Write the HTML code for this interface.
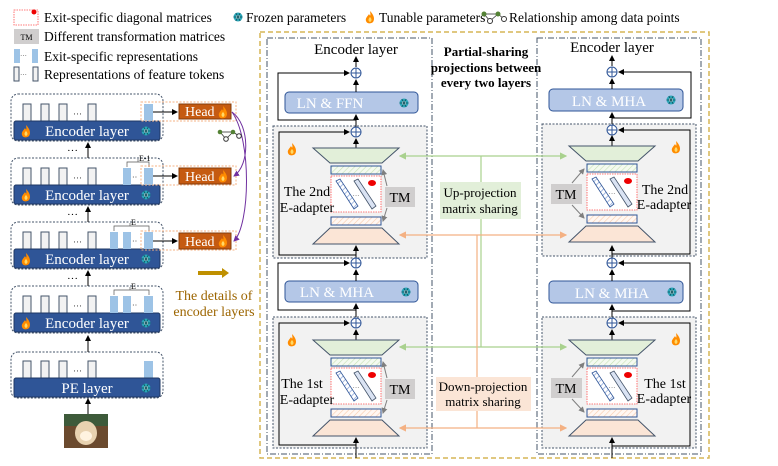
<!DOCTYPE html>
<html><head><meta charset="utf-8"><style>
html,body{margin:0;padding:0;background:#fff}
svg{display:block;font-family:"Liberation Serif",serif}
</style></head><body>
<svg width="778" height="466" viewBox="0 0 778 466" xmlns="http://www.w3.org/2000/svg">
<defs>
<pattern id="hb" width="4" height="4" patternUnits="userSpaceOnUse" patternTransform="rotate(45)"><rect width="4" height="4" fill="#fff"/><line x1="0" y1="0" x2="0" y2="4" stroke="#8faadc" stroke-width="1.6"/></pattern>
<pattern id="hg" width="4" height="4" patternUnits="userSpaceOnUse" patternTransform="rotate(45)"><rect width="4" height="4" fill="#f4faf0"/><line x1="0" y1="0" x2="0" y2="4" stroke="#c5e0b4" stroke-width="1.2"/></pattern>
<pattern id="ho" width="4" height="4" patternUnits="userSpaceOnUse" patternTransform="rotate(45)"><rect width="4" height="4" fill="#fff7f2"/><line x1="0" y1="0" x2="0" y2="4" stroke="#f8cbad" stroke-width="1.2"/></pattern>
<marker id="ar" viewBox="0 0 6 6" refX="5" refY="3" markerWidth="6" markerHeight="6" orient="auto"><path d="M0,0L6,3L0,6z" fill="#000"/></marker>
<marker id="ag" viewBox="0 0 6 6" refX="5" refY="3" markerWidth="6" markerHeight="6" orient="auto-start-reverse"><path d="M0,0L6,3L0,6z" fill="#a9d18e"/></marker>
<marker id="ao" viewBox="0 0 6 6" refX="5" refY="3" markerWidth="6" markerHeight="6" orient="auto-start-reverse"><path d="M0,0L6,3L0,6z" fill="#f4b183"/></marker>
<marker id="agr" viewBox="0 0 6 6" refX="5" refY="3" markerWidth="6" markerHeight="6" orient="auto"><path d="M0,0L6,3L0,6z" fill="#7f7f7f"/></marker>
<marker id="ap" viewBox="0 0 6 6" refX="5" refY="3" markerWidth="6" markerHeight="6" orient="auto"><path d="M0,0L6,3L0,6z" fill="#7030a0"/></marker>
<g id="core">
<polygon points="-43,0 43,0 26,15 -26,15" fill="#e2efd9" stroke="#44546a" stroke-width="1"/>
<rect x="-25" y="18" width="50" height="8" fill="url(#hg)" stroke="#2f5597" stroke-width="1"/>
<rect x="-25" y="28" width="50" height="36" fill="#fff" stroke="#ff5050" stroke-width="0.8" stroke-dasharray="1.5,1"/>
<polygon points="-20,33 -16,31 2,58 -2,61" fill="url(#hb)" stroke="#2f5597" stroke-width="0.8"/>
<polygon points="-2,33 2,31 20,58 16,61" fill="#dae3f3" stroke="#44546a" stroke-width="0.8"/>
<text x="0" y="50" font-size="7" fill="#666" text-anchor="middle">···</text>
<ellipse cx="16" cy="35" rx="4" ry="3" fill="#e00"/>
<rect x="-25" y="69" width="50" height="8" fill="url(#ho)" stroke="#2f5597" stroke-width="1"/>
<polygon points="-26,80 26,80 43,96 -43,96" fill="#fbe5d6" stroke="#44546a" stroke-width="1"/>
</g>
<g id="plus"><circle r="5" fill="#fff" stroke="#2f5597" stroke-width="1"/><line x1="-5" y1="0" x2="5" y2="0" stroke="#2f5597"/><line x1="0" y1="-5" x2="0" y2="5" stroke="#2f5597"/></g>
<g id="snow"><circle r="4.5" fill="#2aa6b8"/><circle r="2" fill="#e6fbff"/><line x1="-4.5" y1="0" x2="4.5" y2="0" stroke="#0b4f5a" stroke-width="0.8"/><line x1="-2.2" y1="-3.9" x2="2.2" y2="3.9" stroke="#0b4f5a" stroke-width="0.8"/><line x1="2.2" y1="-3.9" x2="-2.2" y2="3.9" stroke="#0b4f5a" stroke-width="0.8"/></g>
<g id="fire"><path d="M0,-6 C4,-2 5,2 3,5 C1,7 -3,7 -4,4 C-5,1 -2,-1 -1,-3 C0,-1 1,0 0,-6z" fill="#ff8c00"/><path d="M0,0 C2,2 2,4 0,5 C-2,4 -2,2 0,0z" fill="#ffd966"/></g>
<g id="tok"><rect width="8" height="17" fill="#f2f2f2" stroke="#44546a" stroke-width="1"/></g>
</defs>

<!-- legend -->
<rect x="14" y="10" width="24" height="15" fill="#fff" stroke="#ff5050" stroke-width="0.8" stroke-dasharray="1.5,1"/>
<circle cx="34" cy="12" r="2.5" fill="#e00"/>
<text x="44" y="22" font-size="13.5">Exit-specific diagonal matrices</text>
<use href="#snow" x="238" y="17"/><text x="246" y="22" font-size="13.5">Frozen parameters</text>
<use href="#fire" x="370" y="17"/><text x="379" y="22" font-size="13.5">Tunable parameters</text>
<g stroke="#333" stroke-width="0.8" fill="none"><line x1="484" y1="14" x2="490" y2="21"/><line x1="490" y1="21" x2="498" y2="14"/><line x1="498" y1="14" x2="484" y2="14"/><line x1="498" y1="14" x2="504" y2="19"/></g>
<circle cx="484" cy="14" r="2.5" fill="#548235"/><circle cx="498" cy="14" r="2.5" fill="#548235"/><circle cx="490" cy="21" r="2.5" fill="#fff" stroke="#333"/><circle cx="504" cy="19" r="2.5" fill="#fff" stroke="#333"/>
<text x="509" y="22" font-size="13.5">Relationship among data points</text>
<rect x="14" y="29" width="25" height="15" fill="#d0cece"/><text x="26.5" y="40" font-size="8" text-anchor="middle">TM</text>
<text x="44" y="41" font-size="13.5">Different transformation matrices</text>
<rect x="14" y="49" width="6" height="14" fill="#9dc3e6"/><text x="20" y="58" font-size="7" fill="#555">···</text><rect x="32" y="49" width="6" height="14" fill="#9dc3e6"/>
<text x="44" y="61" font-size="13.5">Exit-specific representations</text>
<rect x="14" y="67" width="5" height="14" fill="#f2f2f2" stroke="#44546a"/><text x="20" y="77" font-size="7" fill="#555">···</text><rect x="33" y="67" width="5" height="14" fill="#f2f2f2" stroke="#44546a"/>
<text x="44" y="79" font-size="13.5">Representations of feature tokens</text>

<!-- left column blocks -->
<g id="blk">
<rect x="11" y="94" width="152" height="47" rx="7" fill="#fff" stroke="#44546a" stroke-width="1" stroke-dasharray="2,1.5"/>
<use href="#tok" x="23" y="104"/><use href="#tok" x="41" y="104"/><use href="#tok" x="59" y="104"/><use href="#tok" x="88" y="104"/>
<text x="73" y="117" font-size="9" fill="#333">···</text>
<rect x="14" y="121" width="146" height="19" rx="2" fill="#2f5597" stroke="#1f3864"/>
<use href="#fire" x="26" y="131"/><use href="#snow" x="146" y="131"/>
</g>
<text x="87" y="136" font-size="15" fill="#fff" text-anchor="middle">Encoder layer</text>
<rect x="144" y="104" width="9" height="17" fill="#9dc3e6"/>
<use href="#blk" y="64"/><text x="87" y="200" font-size="15" fill="#fff" text-anchor="middle">Encoder layer</text>
<rect x="144" y="168" width="9" height="17" fill="#9dc3e6"/><rect x="123" y="168" width="8" height="17" fill="#9dc3e6"/><text x="132" y="180" font-size="8" fill="#333">··</text>
<path d="M127,167 V162 H149 V167 M138,162 V159" fill="none" stroke="#555" stroke-width="0.7"/><text x="139" y="161" font-size="8">E-1</text>
<use href="#blk" y="128"/><text x="87" y="264" font-size="15" fill="#fff" text-anchor="middle">Encoder layer</text>
<rect x="144" y="232" width="9" height="17" fill="#9dc3e6"/><rect x="123" y="232" width="8" height="17" fill="#9dc3e6"/><rect x="110" y="232" width="8" height="17" fill="#9dc3e6"/><text x="132" y="244" font-size="8" fill="#333">··</text>
<path d="M114,231 V226 H149 V231 M130,226 V223" fill="none" stroke="#555" stroke-width="0.7"/><text x="131" y="225" font-size="8">E</text>
<use href="#blk" y="192"/><text x="87" y="328" font-size="15" fill="#fff" text-anchor="middle">Encoder layer</text>
<rect x="144" y="296" width="9" height="17" fill="#9dc3e6"/><rect x="123" y="296" width="8" height="17" fill="#9dc3e6"/><rect x="110" y="296" width="8" height="17" fill="#9dc3e6"/><text x="132" y="308" font-size="8" fill="#333">··</text>
<path d="M114,295 V290 H149 V295 M130,290 V287" fill="none" stroke="#555" stroke-width="0.7"/><text x="131" y="289" font-size="8">E</text>
<!-- PE -->
<rect x="11" y="352" width="152" height="46" rx="7" fill="#fff" stroke="#44546a" stroke-width="1" stroke-dasharray="2,1.5"/>
<use href="#tok" x="23" y="361"/><use href="#tok" x="41" y="361"/><use href="#tok" x="59" y="361"/><use href="#tok" x="88" y="361"/>
<text x="73" y="374" font-size="9" fill="#333">···</text>
<rect x="144" y="361" width="9" height="17" fill="#9dc3e6"/>
<rect x="14" y="378" width="146" height="19" rx="2" fill="#2f5597" stroke="#1f3864"/>
<use href="#snow" x="146" y="388"/>
<text x="87" y="393" font-size="15" fill="#fff" text-anchor="middle">PE layer</text>
<!-- image -->
<rect x="64" y="414" width="44" height="34" fill="#6b4a2e"/>
<rect x="64" y="414" width="44" height="12" fill="#3d5a3a"/>
<ellipse cx="86" cy="433" rx="11" ry="12" fill="#e8d2b0"/>
<ellipse cx="86" cy="436" rx="6" ry="5" fill="#fff3e0"/>
<!-- vertical arrows left -->
<g stroke="#000" stroke-width="1" marker-end="url(#ar)">
<line x1="88" y1="158" x2="88" y2="143"/><line x1="88" y1="222" x2="88" y2="207"/><line x1="88" y1="286" x2="88" y2="271"/><line x1="88" y1="352" x2="88" y2="336"/><line x1="88" y1="414" x2="88" y2="399"/>
</g>
<text x="67" y="154" font-size="11">···</text><text x="67" y="218" font-size="11">···</text><text x="67" y="282" font-size="11">···</text>
<!-- heads -->
<g>
<rect x="141" y="102" width="95" height="19" fill="none" stroke="#f4b183" stroke-dasharray="2,1.5"/>
<rect x="141" y="166" width="95" height="19" fill="none" stroke="#f4b183" stroke-dasharray="2,1.5"/>
<rect x="141" y="231" width="95" height="19" fill="none" stroke="#f4b183" stroke-dasharray="2,1.5"/>
<g fill="#c55a11" stroke="#843c0c"><rect x="179" y="104" width="52" height="15"/><rect x="179" y="168" width="52" height="16"/><rect x="179" y="233" width="52" height="16"/></g>
<g font-size="14" fill="#fff"><text x="185" y="116">Head</text><text x="185" y="181">Head</text><text x="185" y="246">Head</text></g>
<use href="#fire" x="223" y="112"/><use href="#fire" x="223" y="176"/><use href="#fire" x="223" y="241"/>
<g stroke="#000" marker-end="url(#ar)"><line x1="153" y1="112" x2="177" y2="112"/><line x1="153" y1="176" x2="177" y2="176"/><line x1="153" y1="241" x2="177" y2="241"/></g>
<path d="M232,112 C250,125 250,165 234,176" fill="none" stroke="#7030a0" marker-end="url(#ap)"/>
<path d="M232,112 C252,140 250,225 234,241" fill="none" stroke="#7030a0" marker-end="url(#ap)"/>
<g stroke="#333" stroke-width="0.8"><line x1="220" y1="132" x2="226" y2="139"/><line x1="226" y1="139" x2="233" y2="132"/><line x1="220" y1="132" x2="233" y2="132"/><line x1="233" y1="132" x2="239" y2="136"/></g>
<circle cx="220" cy="132" r="2.3" fill="#548235"/><circle cx="233" cy="132" r="2.3" fill="#548235"/><circle cx="226" cy="139" r="2.3" fill="#fff" stroke="#333"/><circle cx="239" cy="136" r="2.3" fill="#fff" stroke="#333"/>
</g>
<path d="M198,273 H222" stroke="#bf9000" stroke-width="4"/><polygon points="222,268 229,273 222,278" fill="#bf9000"/>
<text x="214" y="300" font-size="14" fill="#9c6500" text-anchor="middle">The details of</text>
<text x="214" y="316" font-size="14" fill="#9c6500" text-anchor="middle">encoder layers</text>

<!-- big gold box -->
<rect x="260" y="32" width="449" height="426" fill="none" stroke="#d6b656" stroke-width="1.5" stroke-dasharray="5,3"/>
<!-- panels -->
<rect x="267" y="38" width="165" height="416" fill="none" stroke="#44546a" stroke-dasharray="6,2,1,2"/>
<rect x="537" y="38" width="164" height="416" fill="none" stroke="#44546a" stroke-dasharray="6,2,1,2"/>

<!-- LEFT PANEL -->
<text x="356" y="54" font-size="15" text-anchor="middle">Encoder layer</text>
<rect x="273" y="126" width="154" height="132" fill="#f2f2f2" stroke="#44546a" stroke-dasharray="2,1.5"/>
<rect x="273" y="317" width="154" height="131" fill="#f2f2f2" stroke="#44546a" stroke-dasharray="2,1.5"/>
<rect x="285" y="92" width="133" height="21" rx="4" fill="#b4c7e7" stroke="#2f5597"/>
<text x="330" y="108" font-size="15" fill="#fff" text-anchor="middle">LN &amp; FFN</text><use href="#snow" x="404" y="103"/>
<rect x="285" y="281" width="133" height="21" rx="4" fill="#b4c7e7" stroke="#2f5597"/>
<text x="337" y="297" font-size="15" fill="#fff" text-anchor="middle">LN &amp; MHA</text><use href="#snow" x="406" y="292"/>
<g stroke="#000" fill="none">
<line x1="356" y1="67" x2="356" y2="57" marker-end="url(#ar)"/>
<line x1="356" y1="92" x2="356" y2="80" marker-end="url(#ar)"/>
<line x1="356" y1="127" x2="356" y2="115" marker-end="url(#ar)"/>
<line x1="356" y1="148" x2="356" y2="139" marker-end="url(#ar)"/>
<line x1="356" y1="258" x2="356" y2="246" marker-end="url(#ar)"/>
<line x1="356" y1="281" x2="356" y2="270" marker-end="url(#ar)"/>
<line x1="356" y1="317" x2="356" y2="304" marker-end="url(#ar)"/>
<line x1="356" y1="340" x2="356" y2="330" marker-end="url(#ar)"/>
<line x1="356" y1="458" x2="356" y2="438" marker-end="url(#ar)"/>
<path d="M356,120 H278 V73 H349" marker-end="url(#ar)"/>
<path d="M356,255 H279 V132 H349" marker-end="url(#ar)"/>
<path d="M356,310 H278 V263 H349" marker-end="url(#ar)"/>
<path d="M356,445 H279 V323 H349" marker-end="url(#ar)"/>
</g>
<use href="#plus" x="356" y="73"/><use href="#plus" x="356" y="132"/><use href="#plus" x="356" y="263"/><use href="#plus" x="356" y="323"/>
<use href="#core" x="356" y="148"/><use href="#core" x="356" y="340"/>
<use href="#fire" x="292" y="149"/><use href="#fire" x="292" y="340"/>
<rect x="385" y="187" width="30" height="20" fill="#d0cece"/><text x="400" y="202" font-size="14" text-anchor="middle">TM</text>
<rect x="385" y="379" width="30" height="20" fill="#d0cece"/><text x="400" y="394" font-size="14" text-anchor="middle">TM</text>
<g stroke="#7f7f7f" marker-end="url(#agr)"><line x1="387" y1="186" x2="383" y2="170"/><line x1="387" y1="208" x2="383" y2="221"/><line x1="387" y1="378" x2="383" y2="362"/><line x1="387" y1="400" x2="383" y2="413"/></g>
<text x="307" y="196" font-size="14" text-anchor="middle">The 2nd</text><text x="307" y="212" font-size="14" text-anchor="middle">E-adapter</text>
<text x="302" y="388" font-size="14" text-anchor="middle">The 1st</text><text x="307" y="404" font-size="14" text-anchor="middle">E-adapter</text>

<!-- RIGHT PANEL -->
<text x="612" y="52" font-size="15" text-anchor="middle">Encoder layer</text>
<rect x="542" y="124" width="154" height="132" fill="#f2f2f2" stroke="#44546a" stroke-dasharray="2,1.5"/>
<rect x="542" y="317" width="154" height="131" fill="#f2f2f2" stroke="#44546a" stroke-dasharray="2,1.5"/>
<rect x="549" y="89" width="134" height="22" rx="4" fill="#b4c7e7" stroke="#2f5597"/>
<text x="609" y="106" font-size="15" fill="#fff" text-anchor="middle">LN &amp; MHA</text><use href="#snow" x="671" y="100"/>
<rect x="549" y="281" width="134" height="22" rx="4" fill="#b4c7e7" stroke="#2f5597"/>
<text x="612" y="298" font-size="15" fill="#fff" text-anchor="middle">LN &amp; MHA</text><use href="#snow" x="672" y="292"/>
<g stroke="#000" fill="none">
<line x1="612" y1="66" x2="612" y2="56" marker-end="url(#ar)"/>
<line x1="612" y1="89" x2="612" y2="79" marker-end="url(#ar)"/>
<line x1="612" y1="124" x2="612" y2="113" marker-end="url(#ar)"/>
<line x1="612" y1="146" x2="612" y2="136" marker-end="url(#ar)"/>
<line x1="612" y1="258" x2="612" y2="246" marker-end="url(#ar)"/>
<line x1="612" y1="281" x2="612" y2="270" marker-end="url(#ar)"/>
<line x1="612" y1="317" x2="612" y2="305" marker-end="url(#ar)"/>
<line x1="612" y1="340" x2="612" y2="330" marker-end="url(#ar)"/>
<line x1="612" y1="458" x2="612" y2="438" marker-end="url(#ar)"/>
<path d="M612,118 H691 V72 H619" marker-end="url(#ar)"/>
<path d="M612,254 H690 V130 H619" marker-end="url(#ar)"/>
<path d="M612,311 H690 V263 H619" marker-end="url(#ar)"/>
<path d="M612,446 H690 V323 H619" marker-end="url(#ar)"/>
</g>
<use href="#plus" x="612" y="72"/><use href="#plus" x="612" y="130"/><use href="#plus" x="612" y="263"/><use href="#plus" x="612" y="323"/>
<use href="#core" x="612" y="146"/><use href="#core" x="612" y="340"/>
<use href="#fire" x="676" y="147"/><use href="#fire" x="676" y="339"/>
<rect x="551" y="184" width="31" height="20" fill="#d0cece"/><text x="566" y="199" font-size="14" text-anchor="middle">TM</text>
<rect x="551" y="378" width="31" height="20" fill="#d0cece"/><text x="566" y="393" font-size="14" text-anchor="middle">TM</text>
<g stroke="#7f7f7f" marker-end="url(#agr)"><line x1="572" y1="183" x2="584" y2="169"/><line x1="572" y1="205" x2="584" y2="218"/><line x1="572" y1="377" x2="584" y2="363"/><line x1="572" y1="399" x2="584" y2="412"/></g>
<text x="665" y="194" font-size="14" text-anchor="middle">The 2nd</text><text x="664" y="209" font-size="14" text-anchor="middle">E-adapter</text>
<text x="665" y="388" font-size="14" text-anchor="middle">The 1st</text><text x="664" y="403" font-size="14" text-anchor="middle">E-adapter</text>

<!-- sharing lines -->
<g fill="none" stroke-width="1.2">
<line x1="400" y1="156" x2="566" y2="156" stroke="#a9d18e" marker-start="url(#ag)" marker-end="url(#ag)"/>
<line x1="400" y1="347" x2="566" y2="347" stroke="#a9d18e" marker-start="url(#ag)" marker-end="url(#ag)"/>
<line x1="481" y1="156" x2="481" y2="347" stroke="#a9d18e"/>
<line x1="400" y1="235" x2="566" y2="235" stroke="#f4b183" marker-start="url(#ao)" marker-end="url(#ao)"/>
<line x1="400" y1="428" x2="566" y2="428" stroke="#f4b183" marker-start="url(#ao)" marker-end="url(#ao)"/>
<line x1="477" y1="235" x2="477" y2="428" stroke="#f4b183"/>
</g>
<rect x="440" y="182" width="81" height="37" fill="#e2efd9"/>
<text x="480" y="197" font-size="13" text-anchor="middle">Up-projection</text>
<text x="480" y="213" font-size="13" text-anchor="middle">matrix sharing</text>
<rect x="436" y="377" width="95" height="34" fill="#fbe5d6"/>
<text x="483" y="391" font-size="13" text-anchor="middle">Down-projection</text>
<text x="483" y="406" font-size="13" text-anchor="middle">matrix sharing</text>
<g font-size="13" font-weight="bold" text-anchor="middle">
<text x="486" y="56">Partial-sharing</text>
<text x="486" y="72">projections between</text>
<text x="486" y="87">every two layers</text>
</g>
</svg>
</body></html>
